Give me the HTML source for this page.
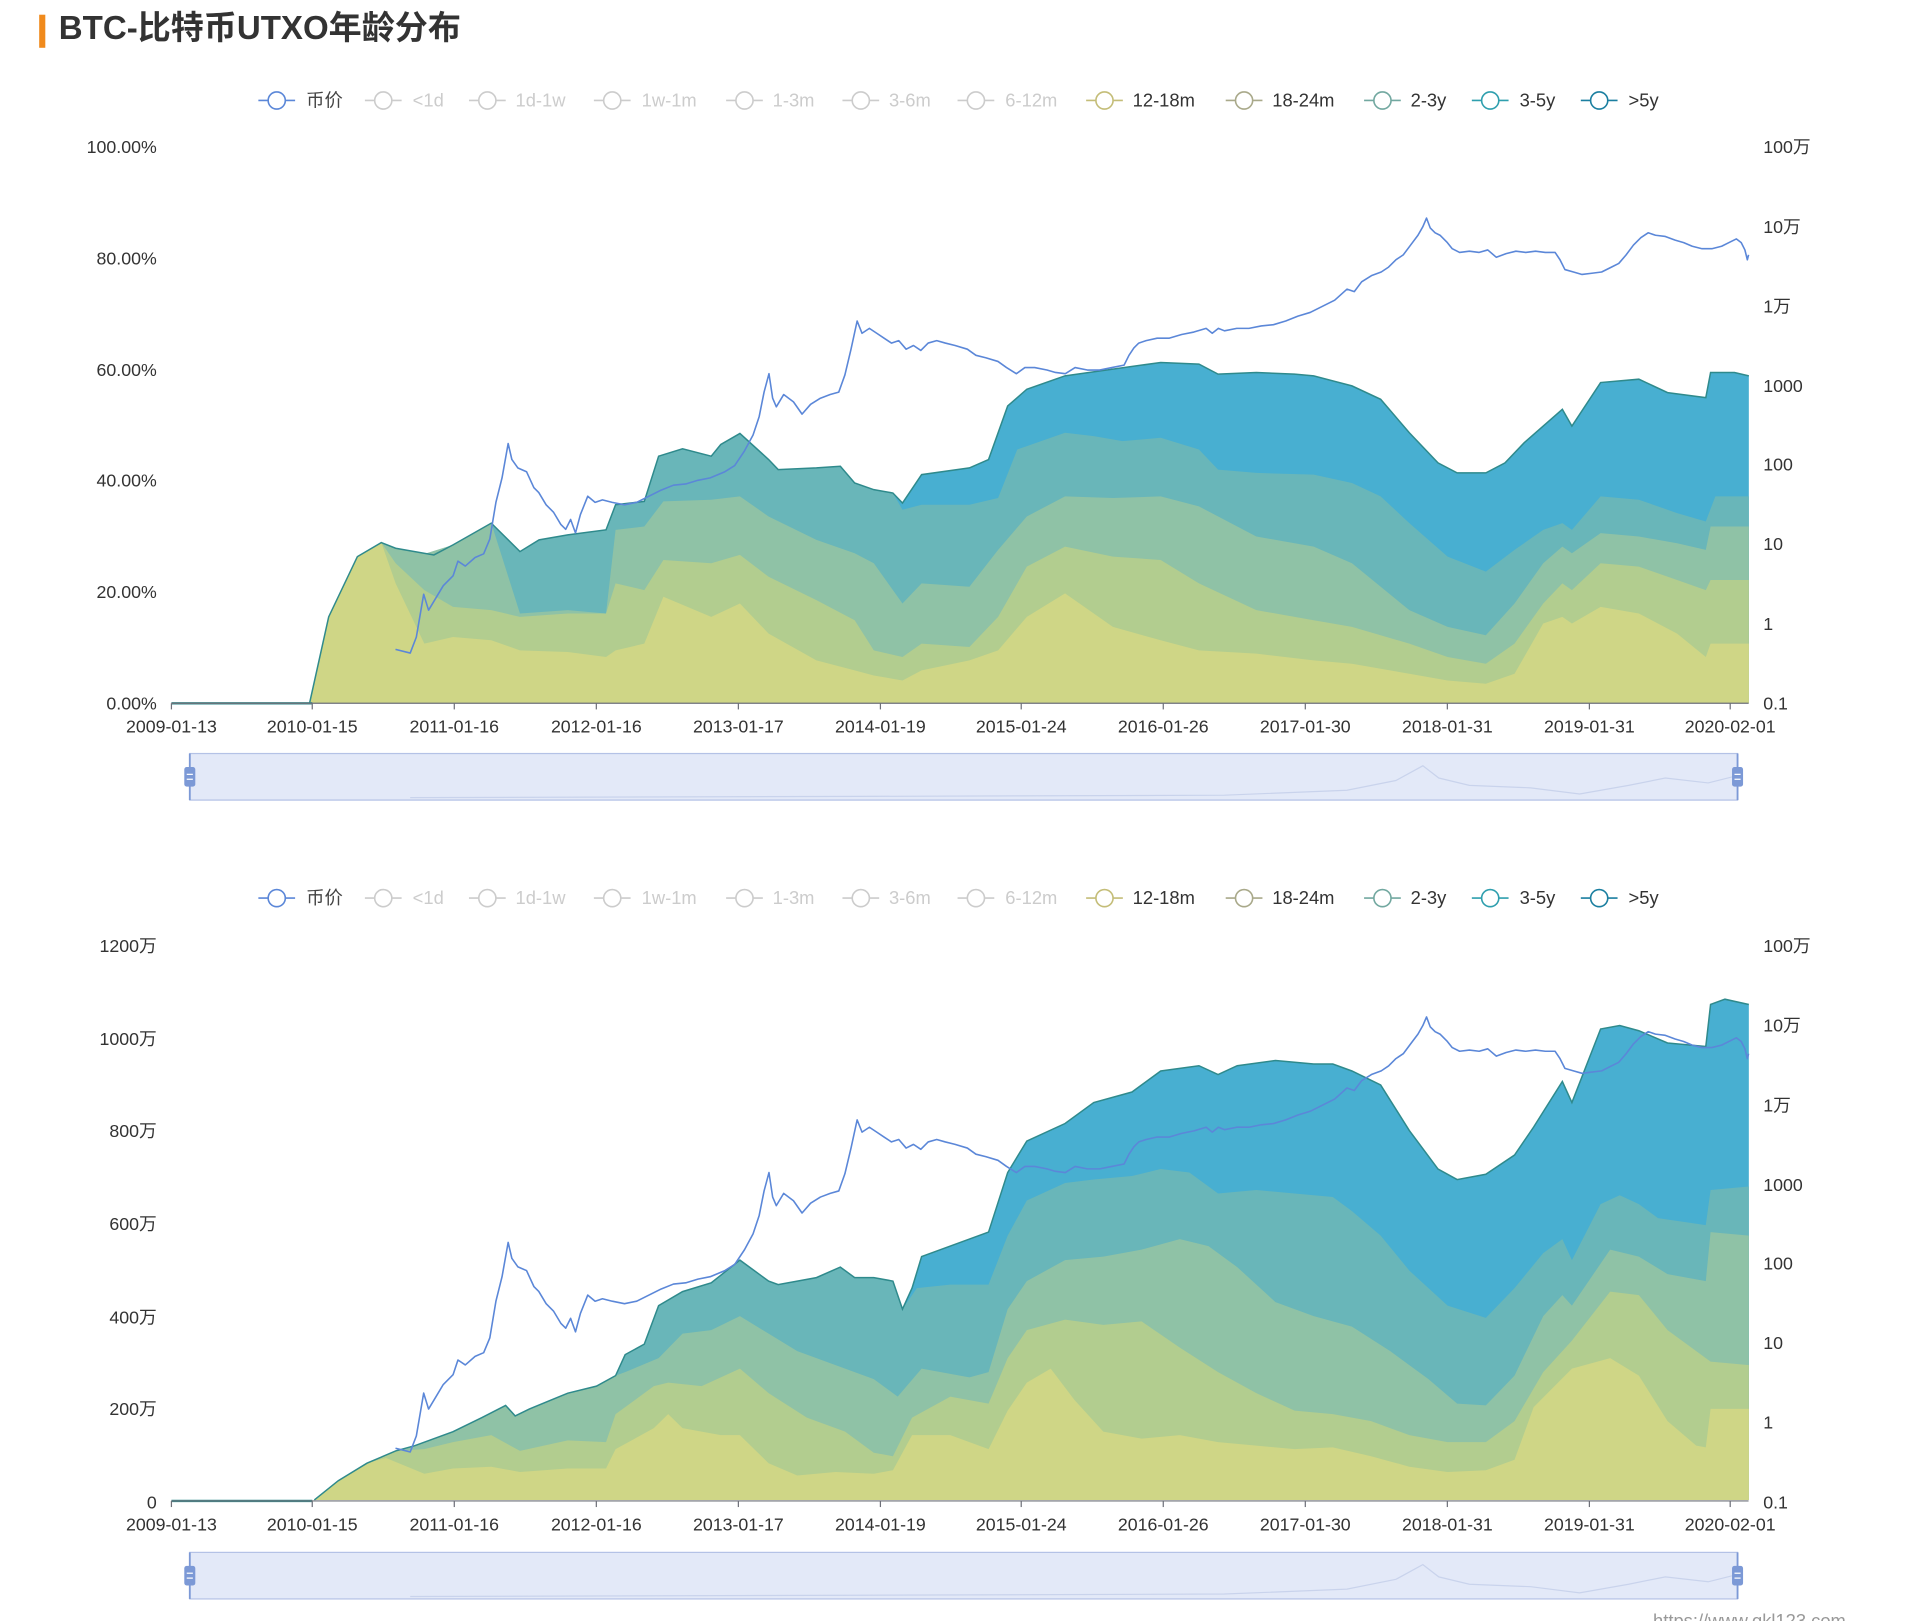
<!DOCTYPE html>
<html><head><meta charset="utf-8">
<style>
html,body{margin:0;padding:0;background:#fff;}
svg{display:block;}
text{font-family:"Liberation Sans","Noto Sans CJK SC",sans-serif;}
</style></head>
<body>
<svg width="1920" height="1621" viewBox="0 0 1568 1323" preserveAspectRatio="none" xmlns="http://www.w3.org/2000/svg">
<defs>
<g id="legend">
  <g font-size="15" fill="#ccc" stroke-width="1.3">
    <line x1="211" y1="0" x2="241" y2="0" stroke="#5b87d8"/><circle cx="226" cy="0" r="7" fill="#fff" stroke="#5b87d8"/><text x="250" y="5" fill="#444" stroke="none">币价</text>
    <line x1="298" y1="0" x2="328" y2="0" stroke="#ccc"/><circle cx="313" cy="0" r="7" fill="#fff" stroke="#ccc"/><text x="337" y="5" stroke="none">&lt;1d</text>
    <line x1="383" y1="0" x2="413" y2="0" stroke="#ccc"/><circle cx="398" cy="0" r="7" fill="#fff" stroke="#ccc"/><text x="421" y="5" stroke="none">1d-1w</text>
    <line x1="485" y1="0" x2="515" y2="0" stroke="#ccc"/><circle cx="500" cy="0" r="7" fill="#fff" stroke="#ccc"/><text x="524" y="5" stroke="none">1w-1m</text>
    <line x1="593" y1="0" x2="623" y2="0" stroke="#ccc"/><circle cx="608" cy="0" r="7" fill="#fff" stroke="#ccc"/><text x="631" y="5" stroke="none">1-3m</text>
    <line x1="688" y1="0" x2="718" y2="0" stroke="#ccc"/><circle cx="703" cy="0" r="7" fill="#fff" stroke="#ccc"/><text x="726" y="5" stroke="none">3-6m</text>
    <line x1="782" y1="0" x2="812" y2="0" stroke="#ccc"/><circle cx="797" cy="0" r="7" fill="#fff" stroke="#ccc"/><text x="821" y="5" stroke="none">6-12m</text>
    <line x1="887" y1="0" x2="917" y2="0" stroke="#c4bd78"/><circle cx="902" cy="0" r="7" fill="#fff" stroke="#c4bd78"/><text x="925" y="5" fill="#333" stroke="none">12-18m</text>
    <line x1="1001" y1="0" x2="1031" y2="0" stroke="#a9a98a"/><circle cx="1016" cy="0" r="7" fill="#fff" stroke="#a9a98a"/><text x="1039" y="5" fill="#333" stroke="none">18-24m</text>
    <line x1="1114" y1="0" x2="1144" y2="0" stroke="#72a8a0"/><circle cx="1129" cy="0" r="7" fill="#fff" stroke="#72a8a0"/><text x="1152" y="5" fill="#333" stroke="none">2-3y</text>
    <line x1="1202" y1="0" x2="1232" y2="0" stroke="#2f9fae"/><circle cx="1217" cy="0" r="7" fill="#fff" stroke="#2f9fae"/><text x="1241" y="5" fill="#333" stroke="none">3-5y</text>
    <line x1="1291" y1="0" x2="1321" y2="0" stroke="#1b7fa0"/><circle cx="1306" cy="0" r="7" fill="#fff" stroke="#1b7fa0"/><text x="1330" y="5" fill="#333" stroke="none">&gt;5y</text>
  </g>
</g>
<g id="xaxis" font-size="14.5" fill="#333" text-anchor="middle">
  <line x1="140" y1="0" x2="1428" y2="0" stroke="#6e7079" stroke-width="1"/>
  <g stroke="#6e7079" stroke-width="1">
    <line x1="140" y1="0" x2="140" y2="5"/><line x1="255" y1="0" x2="255" y2="5"/><line x1="371" y1="0" x2="371" y2="5"/><line x1="487" y1="0" x2="487" y2="5"/><line x1="603" y1="0" x2="603" y2="5"/><line x1="719" y1="0" x2="719" y2="5"/><line x1="834" y1="0" x2="834" y2="5"/><line x1="950" y1="0" x2="950" y2="5"/><line x1="1066" y1="0" x2="1066" y2="5"/><line x1="1182" y1="0" x2="1182" y2="5"/><line x1="1298" y1="0" x2="1298" y2="5"/><line x1="1413" y1="0" x2="1413" y2="5"/>
  </g>
  <text x="140" y="24">2009-01-13</text><text x="255" y="24">2010-01-15</text><text x="371" y="24">2011-01-16</text><text x="487" y="24">2012-01-16</text><text x="603" y="24">2013-01-17</text><text x="719" y="24">2014-01-19</text><text x="834" y="24">2015-01-24</text><text x="950" y="24">2016-01-26</text><text x="1066" y="24">2017-01-30</text><text x="1182" y="24">2018-01-31</text><text x="1298" y="24">2019-01-31</text><text x="1413" y="24">2020-02-01</text>
</g>
<g id="slider">
  <rect x="155" y="0" width="1264" height="38" fill="#e3e9f8" stroke="#b4c2e6" stroke-width="1"/>
  <polyline fill="none" stroke="#c9d3ec" stroke-width="1" points="335,36 700,35 1000,34 1100,30 1140,22 1162,10 1175,20 1200,26 1250,28 1290,33 1330,26 1360,20 1395,24 1419,18"/>
  <line x1="155" y1="0" x2="155" y2="38" stroke="#7c99d6" stroke-width="1.5"/>
  <line x1="1419" y1="0" x2="1419" y2="38" stroke="#7c99d6" stroke-width="1.5"/>
  <rect x="150.5" y="11" width="9" height="16" rx="2" fill="#7c99d6"/>
  <rect x="1414.5" y="11" width="9" height="16" rx="2" fill="#7c99d6"/>
  <line x1="152.5" y1="17" x2="157.5" y2="17" stroke="#fff"/><line x1="152.5" y1="21" x2="157.5" y2="21" stroke="#fff"/>
  <line x1="1416.5" y1="17" x2="1421.5" y2="17" stroke="#fff"/><line x1="1416.5" y1="21" x2="1421.5" y2="21" stroke="#fff"/>
</g>
<g id="price">
<polyline fill="none" stroke="#5b87d8" stroke-width="1.3" stroke-linejoin="round" points="323,530 335,533 340,520 346,485 350,498 356,488 362,478 370,470 374,458 380,462 388,455 395,452 400,440 405,410 410,390 415,362 418,375 423,382 430,385 436,398 440,402 446,412 452,418 458,428 462,432 466,424 470,435 474,420 480,405 486,410 492,408 500,410 510,412 520,410 530,405 540,400 550,396 560,395 570,392 580,390 592,385 600,380 608,368 615,355 620,340 624,320 628,305 631,325 634,332 640,322 648,328 655,338 662,330 670,325 678,322 685,320 690,306 695,285 700,262 704,272 710,268 716,272 722,276 728,280 734,278 740,285 746,282 752,286 758,280 765,278 772,280 780,282 790,285 797,290 805,292 815,295 822,300 830,305 837,300 845,300 855,302 862,304 870,305 878,300 888,302 898,302 908,300 918,298 922,290 926,284 930,280 936,278 945,276 955,276 965,273 975,271 985,268 990,272 995,268 1000,270 1010,268 1020,268 1030,266 1040,265 1050,262 1060,258 1070,255 1080,250 1090,245 1100,236 1106,238 1112,230 1120,225 1128,222 1134,218 1140,212 1146,208 1152,200 1158,192 1162,185 1165,178 1168,186 1172,190 1176,192 1182,198 1186,203 1192,206 1200,205 1208,206 1215,204 1222,210 1230,207 1238,205 1246,206 1254,205 1262,206 1270,206 1274,212 1278,220 1285,222 1292,224 1300,223 1308,222 1316,218 1322,215 1328,208 1334,200 1340,194 1346,190 1352,192 1360,193 1368,196 1375,198 1382,201 1390,203 1398,203 1406,201 1412,198 1418,195 1422,198 1425,204 1427,212 1428,208"/>
</g>
</defs>

<!-- title -->
<rect x="32" y="12" width="5" height="27" fill="#f08a1c"/>
<text x="48" y="32" font-size="27" font-weight="bold" fill="#333" style="font-family:'Liberation Sans','Noto Sans CJK SC',sans-serif">BTC-比特币UTXO年龄分布</text>

<!-- ============ CHART 1 ============ -->
<use href="#legend" y="82"/>
<g font-size="14.5" fill="#333">
  <g text-anchor="end">
    <text x="128" y="125">100.00%</text><text x="128" y="216">80.00%</text><text x="128" y="307">60.00%</text><text x="128" y="397">40.00%</text><text x="128" y="488">20.00%</text><text x="128" y="579">0.00%</text>
  </g>
  <text x="1440" y="125">100万</text><text x="1440" y="190">10万</text><text x="1440" y="255">1万</text><text x="1440" y="320">1000</text><text x="1440" y="384">100</text><text x="1440" y="449">10</text><text x="1440" y="514">1</text><text x="1440" y="579">0.1</text>
</g>
<g transform="translate(245,284.9) scale(0.781,0.2732)">
  <polygon fill="#48afd1" points="10,1058 30,800 60,620 85,578 100,595 140,615 160,585 200,520 230,605 250,570 280,555 320,540 330,465 360,455 375,320 400,298 430,320 440,285 460,252 490,330 500,360 540,355 565,350 580,400 600,420 620,430 630,460 650,375 700,355 720,330 740,170 760,120 800,80 850,60 900,40 940,45 960,75 1000,70 1040,75 1060,80 1100,110 1130,150 1160,250 1190,340 1210,370 1240,370 1260,340 1280,280 1320,180 1330,230 1360,100 1400,90 1430,130 1470,145 1475,70 1500,70 1515,80 1515,1058"/>
  <polygon fill="#69b6b9" points="10,1058 30,800 60,620 85,578 100,595 140,615 160,585 200,520 230,605 250,570 280,555 320,540 330,465 360,455 375,320 400,298 430,320 440,285 460,252 490,330 500,360 540,355 565,350 580,400 600,420 620,430 630,480 650,465 700,465 730,445 750,300 800,250 830,260 860,275 900,265 940,300 960,360 1000,370 1060,375 1100,400 1130,440 1160,520 1200,620 1240,665 1270,600 1300,540 1320,520 1330,540 1360,440 1400,450 1440,490 1470,515 1480,440 1515,440 1515,1058"/>
  <polygon fill="#8fc2a6" points="10,1058 30,800 60,620 85,578 100,595 130,612 160,585 200,520 230,790 280,780 320,790 330,540 360,530 380,455 430,450 460,440 490,500 540,570 580,610 600,640 630,760 650,700 700,710 730,600 760,500 800,440 850,445 900,440 940,470 1000,560 1060,590 1100,640 1160,780 1200,830 1240,855 1270,760 1300,640 1320,590 1330,610 1360,550 1400,560 1440,580 1470,600 1475,530 1515,530 1515,1058"/>
  <polygon fill="#b2cd8f" points="10,1058 30,800 60,620 85,578 100,640 130,720 160,770 200,780 230,800 280,790 320,790 330,700 360,720 380,630 430,640 460,615 490,680 540,750 580,810 600,900 630,920 650,880 700,890 730,800 760,650 800,590 850,620 900,630 940,700 1000,780 1060,810 1100,830 1160,880 1200,920 1240,940 1270,880 1300,760 1320,700 1330,720 1360,640 1400,650 1440,690 1470,720 1475,690 1515,690 1515,1058"/>
  <polygon fill="#cfd686" points="10,1058 30,800 60,620 85,578 100,700 130,880 160,860 200,870 230,900 280,905 320,920 330,900 360,880 380,740 430,800 460,760 490,850 540,930 580,960 600,975 630,990 650,960 700,930 730,900 760,800 800,730 850,830 900,870 940,900 1000,910 1060,930 1100,940 1160,970 1200,990 1240,1000 1270,970 1300,820 1320,800 1330,820 1360,770 1400,790 1440,850 1470,920 1475,880 1515,880 1515,1058"/>
  <polyline fill="none" stroke="#2f8a8c" stroke-width="1.5" vector-effect="non-scaling-stroke" points="10,1058 30,800 60,620 85,578 100,595 140,615 160,585 200,520 230,605 250,570 280,555 320,540 330,465 360,455 375,320 400,298 430,320 440,285 460,252 490,330 500,360 540,355 565,350 580,400 600,420 620,430 630,460 650,375 700,355 720,330 740,170 760,120 800,80 850,60 900,40 940,45 960,75 1000,70 1040,75 1060,80 1100,110 1130,150 1160,250 1190,340 1210,370 1240,370 1260,340 1280,280 1320,180 1330,230 1360,100 1400,90 1430,130 1470,145 1475,70 1500,70 1515,80"/>
</g>
<line x1="140" y1="574" x2="255" y2="574" stroke="#2f8a8c" stroke-width="2"/>
<use href="#price"/>
<use href="#xaxis" y="574"/>
<use href="#slider" y="615"/>

<!-- ============ CHART 2 ============ -->
<use href="#legend" y="733"/>
<g font-size="14.5" fill="#333">
  <g text-anchor="end">
    <text x="128" y="777">1200万</text><text x="128" y="853">1000万</text><text x="128" y="928">800万</text><text x="128" y="1004">600万</text><text x="128" y="1080">400万</text><text x="128" y="1155">200万</text><text x="128" y="1231">0</text>
  </g>
  <text x="1440" y="777">100万</text><text x="1440" y="842">10万</text><text x="1440" y="907">1万</text><text x="1440" y="972">1000</text><text x="1440" y="1036">100</text><text x="1440" y="1101">10</text><text x="1440" y="1166">1</text><text x="1440" y="1231">0.1</text>
</g>
<g transform="translate(245,799.8) scale(0.781,0.2858)">
  <polygon fill="#48afd1" points="15,1485 40,1430 70,1380 100,1345 120,1330 160,1290 190,1250 215,1215 225,1245 240,1225 280,1180 310,1160 330,1130 340,1070 360,1040 375,930 400,890 430,865 460,800 490,860 500,870 540,850 565,820 580,850 600,850 620,860 630,940 640,880 650,790 700,740 720,720 740,550 760,460 800,410 830,350 870,320 900,260 940,245 960,270 980,245 1020,230 1060,240 1080,240 1100,260 1130,300 1160,430 1190,540 1210,570 1240,555 1270,500 1290,420 1320,290 1330,350 1360,140 1380,130 1400,145 1430,180 1470,190 1475,70 1490,55 1515,70 1515,1485"/>
  <polygon fill="#69b6b9" points="15,1485 40,1430 70,1380 100,1345 120,1330 160,1290 190,1250 215,1215 225,1245 240,1225 280,1180 310,1160 330,1130 340,1070 360,1040 375,930 400,890 430,865 460,800 490,860 500,870 540,850 565,820 580,850 600,850 620,860 630,940 645,880 680,870 720,870 740,730 760,630 800,580 830,570 870,560 900,540 930,550 960,610 1000,600 1040,610 1080,620 1100,660 1130,730 1160,830 1200,930 1240,965 1270,880 1300,780 1320,740 1330,800 1360,640 1380,615 1400,640 1420,680 1470,700 1475,600 1515,590 1515,1485"/>
  <polygon fill="#8fc2a6" points="15,1485 40,1430 70,1380 100,1345 120,1330 160,1290 190,1250 215,1215 225,1245 240,1225 280,1180 310,1160 330,1130 340,1120 375,1080 400,1010 430,1000 460,960 490,1010 520,1060 560,1100 600,1140 625,1190 650,1110 700,1135 720,1120 740,940 760,860 800,800 840,790 880,770 920,740 950,760 980,820 1020,920 1060,960 1100,990 1140,1060 1180,1140 1210,1210 1240,1215 1270,1130 1300,960 1320,900 1330,930 1370,770 1400,790 1430,840 1470,860 1475,720 1515,730 1515,1485"/>
  <polygon fill="#b2cd8f" points="15,1485 40,1430 70,1380 100,1345 130,1340 160,1320 200,1300 230,1345 280,1315 320,1320 330,1240 370,1160 385,1150 420,1160 460,1110 490,1180 530,1250 570,1290 600,1350 620,1360 640,1250 680,1190 720,1210 740,1080 760,1000 800,970 840,985 880,975 920,1050 960,1120 1000,1180 1040,1230 1080,1240 1120,1260 1160,1300 1200,1320 1240,1320 1270,1260 1300,1120 1330,1030 1370,890 1400,900 1430,1000 1470,1080 1475,1090 1515,1100 1515,1485"/>
  <polygon fill="#cfd686" points="15,1485 40,1430 70,1380 90,1365 130,1410 160,1395 200,1390 230,1405 280,1395 320,1395 330,1340 370,1280 385,1240 400,1280 440,1300 460,1300 490,1380 520,1415 560,1405 600,1410 620,1400 640,1300 680,1300 720,1340 740,1230 760,1150 785,1110 810,1200 840,1290 880,1310 920,1300 960,1320 1000,1330 1040,1340 1080,1335 1120,1360 1160,1390 1200,1405 1240,1400 1270,1370 1290,1220 1330,1110 1370,1080 1400,1130 1430,1260 1460,1330 1470,1335 1475,1225 1515,1225 1515,1485"/>
  <polyline fill="none" stroke="#2f8a8c" stroke-width="1.5" vector-effect="non-scaling-stroke" points="15,1485 40,1430 70,1380 100,1345 120,1330 160,1290 190,1250 215,1215 225,1245 240,1225 280,1180 310,1160 330,1130 340,1070 360,1040 375,930 400,890 430,865 460,800 490,860 500,870 540,850 565,820 580,850 600,850 620,860 630,940 640,880 650,790 700,740 720,720 740,550 760,460 800,410 830,350 870,320 900,260 940,245 960,270 980,245 1020,230 1060,240 1080,240 1100,260 1130,300 1160,430 1190,540 1210,570 1240,555 1270,500 1290,420 1320,290 1330,350 1360,140 1380,130 1400,145 1430,180 1470,190 1475,70 1490,55 1515,70"/>
</g>
<line x1="140" y1="1225" x2="255" y2="1225" stroke="#2f8a8c" stroke-width="2"/>
<use href="#price" y="652"/>
<use href="#xaxis" y="1225"/>
<use href="#slider" y="1267"/>

<text x="1350" y="1328" font-size="15" fill="#999">https://www.qkl123.com</text>
</svg>
</body></html>
